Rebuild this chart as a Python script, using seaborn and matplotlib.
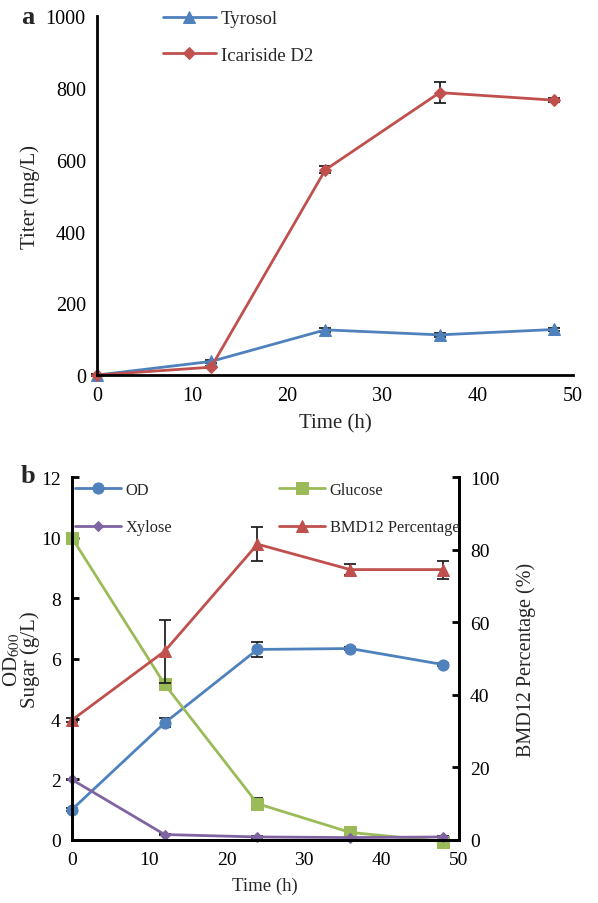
import matplotlib
matplotlib.use("Agg")
import matplotlib.pyplot as plt
import seaborn as sns
import pandas as pd
import numpy as np

# Panel a data
time_h = [0, 12, 24, 36, 48]
tyrosol = [0, 38, 126, 112, 127]
tyrosol_err = [2, 4, 6, 5, 5]
icariside = [0, 22, 572, 787, 766]
icariside_err = [2, 3, 10, 29, 6]

# Panel b data
od = [1.0, 3.87, 6.3, 6.33, 5.8]
od_err = [0.05, 0.15, 0.25, 0.05, 0.05]
glucose = [10.0, 5.15, 1.2, 0.25, -0.05]
glucose_err = [0.05, 0.1, 0.18, 0.05, 0.03]
xylose = [2.0, 0.18, 0.1, 0.08, 0.1]
xylose_err = [0.03, 0.03, 0.02, 0.02, 0.02]
bmd12 = [33, 52, 81.5, 74.5, 74.5]
bmd12_err = [0.5, 8.7, 4.7, 1.5, 2.5]

BLUE = "#4F81BD"
RED = "#C0504D"
GREEN = "#9BBB59"
PURPLE = "#8064A2"

sns.set_style("white")
plt.rcParams['font.family'] = ['Liberation Serif', 'DejaVu Serif']
plt.rcParams['mathtext.fontset'] = 'stix'
plt.rcParams['font.size'] = 14

fig = plt.figure(figsize=(5.98, 9.04), dpi=100)


def serie(ax, y, err, color, marker, label, ms=7):
    df = pd.DataFrame({"t": time_h, "v": y})
    sns.lineplot(data=df, x="t", y="v", ax=ax, color=color, marker=marker,
                 markersize=ms, markeredgecolor=color, linewidth=2,
                 label=label, legend=False)
    ax.errorbar(time_h, y, yerr=err, fmt="none", ecolor="#222222",
                elinewidth=1.3, capsize=4, capthick=1.3, zorder=1)


def estilo(ax, spines, fs):
    for s in ["top", "right", "left", "bottom"]:
        ax.spines[s].set_visible(s in spines)
        ax.spines[s].set_color("black")
        ax.spines[s].set_linewidth(2)
    ax.tick_params(direction="in", length=5, width=2, labelsize=fs,
                   pad=8, colors="black")
    ax.set_xlabel("")
    ax.set_ylabel("")


# ---- Panel a ----
ax1 = fig.add_axes([0.162, 0.584, 0.796, 0.397])
serie(ax1, tyrosol, tyrosol_err, BLUE, "^", "Tyrosol", ms=8)
serie(ax1, icariside, icariside_err, RED, "D", "Icariside D2", ms=6)
ax1.set_xlim(0, 50)
ax1.set_ylim(0, 1000)
ax1.set_xticks(range(0, 51, 10))
ax1.set_yticks(range(0, 1001, 200))
estilo(ax1, ["left", "bottom"], 14.5)
ax1.set_xlabel("Time (h)", fontsize=15, labelpad=6)
ax1.set_ylabel("Titer (mg/L)", fontsize=15, labelpad=4)
ax1.legend(loc="upper left", bbox_to_anchor=(0.139, 1.017), frameon=False,
           fontsize=13.5, handlelength=2.8, handletextpad=0.27,
           labelspacing=1.05, borderpad=0, borderaxespad=0)
for ln in ax1.lines:
    ln.set_clip_on(False)
fig.text(0.035, 0.981, "a", fontsize=19, fontweight="bold", va="center")

# ---- Panel b ----
ax2 = fig.add_axes([0.120, 0.0697, 0.647, 0.4015])
ax3 = ax2.twinx()
serie(ax2, od, od_err, BLUE, "o", "OD", ms=8)
serie(ax2, glucose, glucose_err, GREEN, "s", "Glucose", ms=8)
serie(ax2, xylose, xylose_err, PURPLE, "D", "Xylose", ms=5.5)
serie(ax3, bmd12, bmd12_err, RED, "^", "BMD12 Percentage", ms=8)
ax2.set_xlim(0, 50)
ax2.set_ylim(0, 12)
ax3.set_ylim(0, 100)
ax2.set_xticks(range(0, 51, 10))
ax2.set_yticks(range(0, 13, 2))
ax3.set_yticks(range(0, 101, 20))
estilo(ax2, ["left", "bottom", "right"], 14)
estilo(ax3, ["left", "bottom", "right"], 14)
ax3.tick_params(axis="x", length=0)
ax2.set_xlabel("Time (h)", fontsize=13.5, labelpad=6)
ax2.set_ylabel("OD$_{600}$\nSugar (g/L)", fontsize=15,
               linespacing=0.85, labelpad=1)
ax3.set_ylabel("BMD12 Percentage (%)", fontsize=14.5, labelpad=12)
for a in (ax2, ax3):
    for ln in a.lines:
        ln.set_clip_on(False)

h2, l2 = ax2.get_legend_handles_labels()
h3, l3 = ax3.get_legend_handles_labels()
handles = [h2[0], h2[2], h2[1], h3[0]]
labels = [l2[0], l2[2], l2[1], l3[0]]
ax3.legend(handles, labels, ncol=2, loc="upper left",
           bbox_to_anchor=(0.008, 0.986), frameon=False, fontsize=11.8,
           handlelength=2.8, labelspacing=1.3, columnspacing=6.5,
           handletextpad=0.3, borderpad=0, borderaxespad=0)
fig.text(0.035, 0.473, "b", fontsize=19, fontweight="bold", va="center")

fig.savefig("out.png", dpi=100)
